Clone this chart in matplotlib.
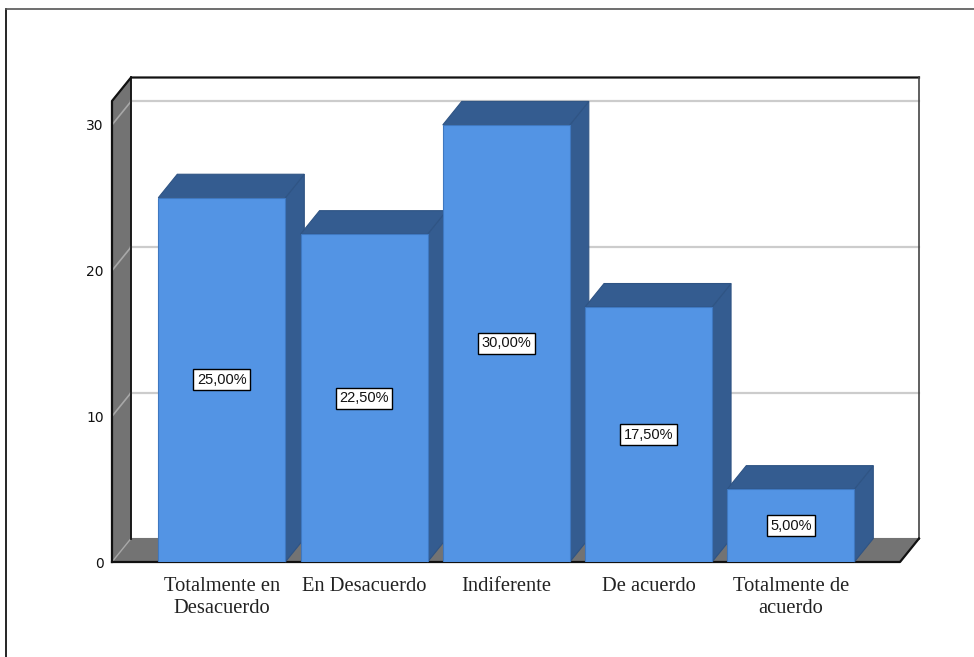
import matplotlib
matplotlib.use("Agg")
import matplotlib.pyplot as plt
from matplotlib.lines import Line2D
from matplotlib.patches import Polygon

categories = ["Totalmente en\nDesacuerdo", "En Desacuerdo", "Indiferente",
              "De acuerdo", "Totalmente de\nacuerdo"]
values = [25.0, 22.5, 30.0, 17.5, 5.0]
value_labels = ["25,00%", "22,50%", "30,00%", "17,50%", "5,00%"]
y_ticks = [0, 10, 20, 30]

FRONT = "#5394e4"
DARK = "#345c90"
WALL = "#737373"
GRID = "#cccccc"

W, H = 974, 657
fig = plt.figure(figsize=(W / 100, H / 100), dpi=100)

# front plane of the box, in pixels of the reference
left, right, bottom, top = 112, 900, 562, 101
ax = fig.add_axes([left / W, (H - bottom) / H, (right - left) / W, (bottom - top) / H])

px_per_cat = 142.25
px_per_unit = 14.57
first_cat = 221.8
ax.set_xlim((left - first_cat) / px_per_cat, (right - first_cat) / px_per_cat)
ax.set_ylim(0, (bottom - top) / px_per_unit)
x0, x1 = ax.get_xlim()
y0, y1 = ax.get_ylim()

# 3d depth of the box and bars, in data units
dx = 19 / px_per_cat
dy = 23.5 / px_per_unit
bar_w = 127 / px_per_cat


def poly(points, color, edge=None, lw=0.8, z=1):
    ax.add_patch(Polygon(points, closed=True, facecolor=color,
                         edgecolor=edge if edge else color, linewidth=lw,
                         zorder=z, clip_on=False))


# walls
poly([(x0, y0), (x0 + dx, y0 + dy), (x0 + dx, y1 + dy), (x0, y1)], WALL, z=1)
poly([(x0, y0), (x1, y0), (x1 + dx, y0 + dy), (x0 + dx, y0 + dy)], WALL, z=1)

# gridlines on the left wall and back wall
for t in y_ticks[1:]:
    ax.plot([x0, x0 + dx], [t, t + dy], color="#a8a8a8", lw=1.2, zorder=2, clip_on=False)
    ax.plot([x0 + dx, x1 + dx], [t + dy, t + dy], color=GRID, lw=1.6, zorder=2, clip_on=False)
ax.plot([x0, x0 + dx], [y0, y0 + dy], color="#a8a8a8", lw=1.0, zorder=2, clip_on=False)

# box outline
ax.plot([x0, x0, x0 + dx, x1 + dx], [y0, y1, y1 + dy, y1 + dy], color="#111111", lw=1.6,
        zorder=3, clip_on=False)
ax.plot([x0 + dx, x0 + dx], [y0 + dy, y1 + dy], color="#111111", lw=1.3, zorder=3, clip_on=False)
ax.plot([x1 + dx, x1 + dx], [y0 + dy, y1 + dy], color="#444444", lw=1.2, zorder=3, clip_on=False)
ax.plot([x0, x1, x1 + dx], [y0, y0, y0 + dy], color="#111111", lw=1.6, zorder=3, clip_on=False)

# bars, left to right so each one covers the side of the previous one
for i, v in enumerate(values):
    a, b = i - bar_w / 2, i + bar_w / 2
    z = 4 + i
    poly([(b, 0), (b + dx, dy), (b + dx, v + dy), (b, v)], DARK, edge="#2f5484", z=z)
    poly([(a, v), (b, v), (b + dx, v + dy), (a + dx, v + dy)], DARK, edge="#2f5484", z=z)
    ax.bar(i, v, width=bar_w, color=FRONT, edgecolor="#3f78c0", linewidth=0.8, zorder=z)
    ax.text(i, v / 2, value_labels[i], ha="center", va="center", fontsize=10.5,
            family="Liberation Sans", color="#111111", zorder=20,
            bbox=dict(boxstyle="square,pad=0.24", facecolor="white",
                      edgecolor="black", linewidth=1.0))

ax.patch.set_visible(False)
for s in ax.spines.values():
    s.set_visible(False)

ax.set_yticks(y_ticks)
ax.set_xticks(range(len(categories)))
ax.set_xticklabels(categories, family="Liberation Serif", fontsize=14.8, color="#222222",
                   linespacing=1.17)
ax.tick_params(axis="x", length=0, pad=11)
ax.tick_params(axis="y", length=0, pad=6, labelsize=10, labelcolor="#111111")

# frame of the screenshot
fig.add_artist(Line2D([6 / W, 6 / W], [0, 1 - 9 / H], color="black", lw=1.2))
fig.add_artist(Line2D([6 / W, 1], [1 - 9 / H, 1 - 9 / H], color="#555555", lw=1.2))

fig.savefig("out.png", dpi=100)
